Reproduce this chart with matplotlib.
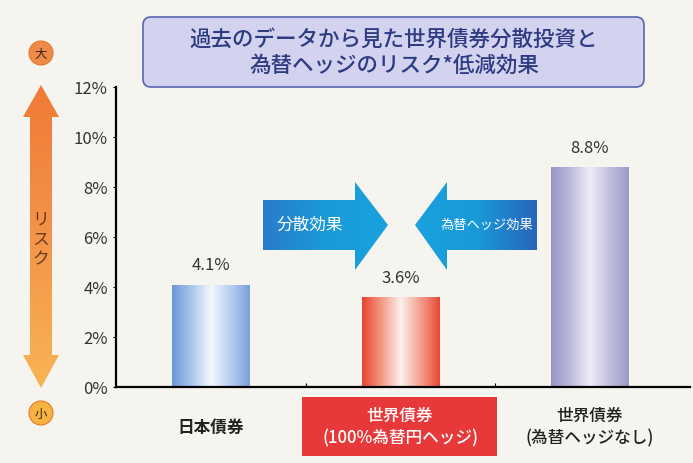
import numpy as np
import matplotlib
matplotlib.use("Agg")
import matplotlib.pyplot as plt
from matplotlib.colors import LinearSegmentedColormap
from matplotlib.patches import Polygon, FancyBboxPatch, Circle

plt.rcParams["font.family"] = ["Noto Sans CJK JP", "DejaVu Sans"]

# data
categories = ["日本債券", "世界債券\n(100%為替円ヘッジ)", "世界債券\n(為替ヘッジなし)"]
risk = [4.1, 3.6, 8.8]
value_labels = ["4.1%", "3.6%", "8.8%"]
yticks = [0, 2, 4, 6, 8, 10, 12]
title = "過去のデータから見た世界債券分散投資と\n為替ヘッジのリスク*低減効果"

bar_colors = [
    ["#6b97d6", "#a9c6ec", "#f2f8fd", "#b8cff0", "#7aa0dc"],
    ["#e8442e", "#f29a86", "#fdf0ec", "#f3a090", "#e84a36"],
    ["#9895c6", "#bdbbdc", "#eeedf6", "#c2c0de", "#9c99c8"],
]

W, H = 693, 463
fig = plt.figure(figsize=(W / 100, H / 100), dpi=100)
fig.patch.set_facecolor("#f5f4ee")

ax = fig.add_axes([116 / W, (H - 387) / H, (690 - 116) / W, 300 / H])
ax.set_facecolor("none")
x = np.arange(len(risk))
bars = ax.bar(x, risk, width=0.41, color="none", edgecolor="none")
ax.set_xlim(-0.503, 2.53)
ax.set_ylim(0, 12)
for b, cols, lab in zip(bars, bar_colors, value_labels):
    x0, y0, w, h = b.get_x(), b.get_y(), b.get_width(), b.get_height()
    cmap = LinearSegmentedColormap.from_list("g", cols)
    grad = np.linspace(0, 1, 200).reshape(1, -1)
    im = ax.imshow(grad, cmap=cmap, aspect="auto", extent=[x0, x0 + w, y0, y0 + h], zorder=2)
    im.set_clip_path(b)
    ax.text(x0 + w / 2, h + 0.4, lab, ha="center", va="bottom", fontsize=12, color="#333333")
ax.set_xlim(-0.503, 2.53)
ax.set_ylim(0, 12)
ax.set_yticks(yticks)
ax.set_yticklabels([f"{t}%" for t in yticks], fontsize=12, color="#333333")
ax.set_xticks([0.5, 1.5])
ax.set_xticklabels([])
ax.tick_params(axis="y", length=2, width=0.8, pad=4)
ax.tick_params(axis="x", length=3, width=0.8, direction="in")
for s in ["top", "right"]:
    ax.spines[s].set_visible(False)
for s in ["left", "bottom"]:
    ax.spines[s].set_linewidth(1.6)

# overlay in pixel coords for decorations
ov = fig.add_axes([0, 0, 1, 1], zorder=5)
ov.set_xlim(0, W)
ov.set_ylim(H, 0)
ov.axis("off")
ov.patch.set_alpha(0)


def grad_poly(pts, cols, vertical=False):
    poly = Polygon(pts, closed=True, facecolor="none", edgecolor="none")
    ov.add_patch(poly)
    xs = [p[0] for p in pts]
    ys = [p[1] for p in pts]
    cmap = LinearSegmentedColormap.from_list("p", cols)
    if vertical:
        g = np.linspace(0, 1, 200).reshape(-1, 1)
    else:
        g = np.linspace(0, 1, 200).reshape(1, -1)
    im = ov.imshow(g, cmap=cmap, aspect="auto",
                   extent=[min(xs), max(xs), max(ys), min(ys)], zorder=3)
    im.set_clip_path(poly)


# title box
ov.add_patch(FancyBboxPatch((143, 17), 501, 70, boxstyle="round,pad=0,rounding_size=8",
                            facecolor="#d3d3ef", edgecolor="#5a66b0", lw=1.2, zorder=2))
ov.text(394, 53, title, ha="center", va="center", fontsize=15.5, color="#2d3b82",
        fontweight="medium", linespacing=1.25, zorder=4)

# risk arrow on left
cx = 41
arrow = [(cx, 85), (cx + 18, 117), (cx + 11, 117), (cx + 11, 355), (cx + 18, 355),
         (cx, 388), (cx - 18, 355), (cx - 11, 355), (cx - 11, 117), (cx - 18, 117)]
grad_poly(arrow, ["#f07a35", "#f39448", "#f8b454"], vertical=True)
ov.text(cx, 240, "リ\nス\nク", ha="center", va="center", fontsize=12, color="#6a3a20",
        linespacing=1.25, zorder=4)
for cy, ch, c in [(53, "大", "#f08a48"), (413, "小", "#f7b440")]:
    ov.add_patch(Circle((cx, cy), 12, facecolor=c, edgecolor="#e07a30", lw=0.8, zorder=3))
    ov.text(cx, cy + 1, ch, ha="center", va="center", fontsize=9, color="#3a2a1a", zorder=4)

# blue effect arrows
right_arrow = [(263, 200), (355, 200), (355, 182), (388, 225), (355, 270), (355, 250), (263, 250)]
grad_poly(right_arrow, ["#2a7ccc", "#1a9ad8", "#18a2de"])
ov.text(310, 225, "分散効果", ha="center", va="center", fontsize=12, color="white", zorder=4)
left_arrow = [(537, 200), (447, 200), (447, 182), (415, 225), (447, 270), (447, 250), (537, 250)]
grad_poly(left_arrow, ["#18a2de", "#1a9ad8", "#2766bb"])
ov.text(487, 225, "為替ヘッジ効果", ha="center", va="center", fontsize=9.5, color="white", zorder=4)

# category labels
ov.add_patch(plt.Rectangle((302, 397), 195, 59, facecolor="#e8393a", edgecolor="none", zorder=2))
label_x = [211, 400, 590]
label_y = [428, 427, 427]
label_c = ["#222222", "white", "#222222"]
for lx, ly, lc, cat in zip(label_x, label_y, label_c, categories):
    ov.text(lx, ly, cat, ha="center", va="center", fontsize=12, color=lc,
            fontweight="bold" if "\n" not in cat else "medium", linespacing=1.3, zorder=4)

fig.savefig("out.png", dpi=100, facecolor=fig.get_facecolor())
